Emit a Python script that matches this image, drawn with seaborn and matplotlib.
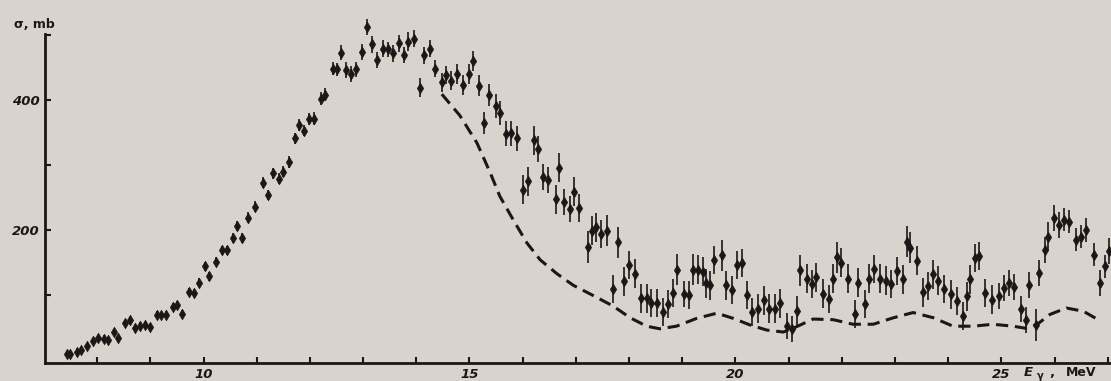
import matplotlib
matplotlib.use("Agg")
import numpy as np
import pandas as pd
import seaborn as sns
import matplotlib.pyplot as plt

# ---------------- data ----------------
energy = [
    7.43, 7.49, 7.63, 7.69, 7.81, 7.92, 8.02, 8.12, 8.20, 8.32,
    8.40, 8.53, 8.62, 8.71, 8.81, 8.90, 9.00, 9.12, 9.21, 9.29,
    9.42, 9.51, 9.59, 9.73, 9.82, 9.92, 10.02, 10.11, 10.24, 10.34,
    10.44, 10.55, 10.63, 10.72, 10.84, 10.97, 11.11, 11.21, 11.31, 11.41,
    11.50, 11.61, 11.72, 11.79, 11.89, 11.99, 12.08, 12.20, 12.28, 12.44,
    12.51, 12.58, 12.67, 12.77, 12.87, 12.98, 13.07, 13.17, 13.27, 13.37,
    13.46, 13.57, 13.67, 13.76, 13.85, 13.95, 14.07, 14.15, 14.26, 14.36,
    14.48, 14.56, 14.66, 14.77, 14.88, 14.99, 15.07, 15.17, 15.27, 15.37,
    15.49, 15.58, 15.68, 15.78, 15.89, 16.00, 16.10, 16.21, 16.29, 16.38,
    16.48, 16.62, 16.69, 16.78, 16.89, 16.97, 17.06, 17.23, 17.30, 17.38,
    17.48, 17.59, 17.70, 17.80, 17.90, 18.00, 18.11, 18.22, 18.33, 18.42,
    18.52, 18.63, 18.73, 18.83, 18.91, 19.03, 19.13, 19.21, 19.30, 19.39,
    19.44, 19.53, 19.60, 19.74, 19.83, 19.94, 20.02, 20.13, 20.21, 20.32,
    20.43, 20.54, 20.63, 20.74, 20.83, 20.96, 21.06, 21.16, 21.22, 21.34,
    21.43, 21.52, 21.65, 21.75, 21.84, 21.90, 21.99, 22.12, 22.24, 22.31,
    22.43, 22.51, 22.61, 22.71, 22.83, 22.93, 23.04, 23.15, 23.22, 23.29,
    23.42, 23.53, 23.62, 23.72, 23.81, 23.92, 24.05, 24.16, 24.27, 24.36,
    24.41, 24.51, 24.58, 24.70, 24.83, 24.95, 25.05, 25.14, 25.24, 25.36,
    25.47, 25.52, 25.65, 25.71, 25.82, 25.88, 25.99, 26.09, 26.17, 26.27,
    26.41, 26.50, 26.59, 26.74, 26.86, 26.94, 27.03,
]
sigma = [
    10, 10, 12, 16, 21, 29, 34, 33, 31, 43,
    34, 57, 61, 50, 53, 54, 51, 70, 69, 70,
    82, 85, 71, 105, 103, 119, 144, 129, 151, 169,
    169, 188, 206, 188, 219, 236, 273, 254, 287, 279,
    290, 305, 341, 362, 353, 371, 371, 402, 408, 448,
    447, 473, 446, 440, 447, 474, 512, 486, 462, 479,
    478, 472, 487, 469, 490, 494, 419, 469, 479, 448,
    427, 438, 430, 440, 423, 440, 460, 422, 364, 408,
    391, 380, 348, 349, 341, 262, 275, 338, 324, 282,
    277, 247, 296, 243, 233, 259, 234, 174, 199, 204,
    194, 199, 109, 181, 121, 146, 133, 95, 95, 88,
    88, 74, 86, 103, 139, 101, 100, 139, 139, 136,
    118, 115, 154, 161, 115, 108, 146, 149, 100, 74,
    79, 92, 79, 79, 87, 53, 48, 76, 138, 125,
    117, 127, 102, 94, 125, 158, 150, 125, 71, 119,
    86, 125, 140, 125, 122, 117, 137, 124, 182, 173,
    153, 104, 114, 132, 122, 109, 101, 91, 68, 98,
    124, 157, 160, 103, 93, 98, 111, 119, 113, 78,
    62, 116, 54, 134, 170, 190, 218, 208, 216, 213,
    185, 190, 200, 162, 118, 144, 167,
]
sigma_err = [
    4, 4, 4, 4, 4, 5, 5, 5, 5, 5,
    5, 5, 5, 5, 5, 5, 5, 5, 5, 5,
    6, 6, 6, 6, 6, 7, 7, 7, 7, 7,
    7, 8, 8, 8, 8, 8, 8, 8, 8, 8,
    8, 9, 9, 9, 9, 9, 10, 10, 10, 10,
    10, 12, 12, 12, 12, 12, 12, 13, 12, 13,
    12, 13, 13, 12, 14, 13, 15, 13, 13, 13,
    14, 14, 15, 15, 15, 15, 16, 16, 17, 17,
    18, 18, 19, 19, 19, 22, 22, 22, 20, 20,
    20, 22, 22, 20, 20, 22, 22, 24, 22, 22,
    22, 24, 22, 24, 22, 22, 22, 22, 22, 22,
    22, 22, 22, 22, 24, 20, 22, 24, 22, 22,
    22, 22, 22, 24, 22, 22, 22, 22, 22, 22,
    22, 22, 22, 22, 22, 20, 20, 22, 24, 22,
    22, 22, 22, 22, 22, 24, 22, 22, 22, 22,
    22, 22, 22, 22, 22, 22, 22, 22, 24, 24,
    22, 22, 22, 22, 22, 22, 22, 22, 22, 22,
    22, 22, 22, 22, 22, 20, 20, 20, 20, 20,
    20, 20, 24, 20, 20, 22, 20, 20, 18, 18,
    18, 18, 18, 18, 20, 18, 20,
]
theory_energy = [
    14.48, 14.82, 15.14, 15.39, 15.57, 15.82, 16.08, 16.33, 16.64, 16.95,
    17.33, 17.70, 18.02, 18.33, 18.58, 18.89, 19.27, 19.65, 19.96, 20.27,
    20.59, 20.90, 21.09, 21.46, 21.84, 22.21, 22.59, 22.97, 23.34, 23.72,
    24.09, 24.47, 24.84, 25.22, 25.44, 25.66, 25.91, 26.22, 26.54, 26.82,
]
theory_sigma = [
    409, 376, 334, 288, 252, 216, 180, 154, 133, 115,
    99, 83, 65, 52, 48, 52, 64, 72, 64, 54,
    46, 43, 49, 63, 62, 55, 55, 65, 73, 65,
    52, 52, 55, 52, 49, 54, 70, 80, 75, 62,
]
x_major = [10, 15, 20, 25]
x_minor = [8, 9, 11, 12, 13, 14, 16, 17, 18, 19, 21, 22, 23, 24, 26, 27]
y_major = [200, 400]
y_minor = [100, 300, 500]

assert len(energy) == len(sigma) == len(sigma_err)
assert len(theory_energy) == len(theory_sigma)

df = pd.DataFrame({"E": energy, "sigma": sigma, "err": sigma_err})
th = pd.DataFrame({"E": theory_energy, "sigma": theory_sigma})

# ---------------- style ----------------
sns.set_theme(style="ticks")
plt.rcParams["font.family"] = ["DejaVu Sans"]

bg = "#d8d4cd"
ink = "#1e1616"

W, H = 1111, 381
fig = plt.figure(figsize=(W / 100, H / 100), dpi=100, facecolor=bg)
ax = fig.add_axes([45 / W, (H - 362.6) / H, (W - 45) / W, 328.9 / H])
ax.set_facecolor(bg)

# error bars + markers
ax.errorbar(df["E"], df["sigma"], yerr=df["err"], fmt="none",
            ecolor=ink, elinewidth=1.2, capsize=0, clip_on=False, zorder=3)
sns.scatterplot(data=df, x="E", y="sigma", marker="d", s=30, color=ink,
                edgecolor=ink, linewidth=0.4, ax=ax, clip_on=False, zorder=4,
                legend=False)

# theoretical dashed curve
sns.lineplot(data=th, x="E", y="sigma", sort=False, estimator=None, ax=ax,
             color=ink, linewidth=2.2, zorder=2)
ax.get_lines()[-1].set_dashes([4, 2.2])

ax.set_xlim(7.02, 27.06)
ax.set_ylim(-4, 502)

for s in ["top", "right"]:
    ax.spines[s].set_visible(False)
for s in ["left", "bottom"]:
    ax.spines[s].set_linewidth(2.0)
    ax.spines[s].set_color(ink)

ax.set_xticks(x_major)
ax.set_xticks(x_minor, minor=True)
ax.set_yticks(y_major)
ax.set_yticks(y_minor, minor=True)
ax.set_xticklabels([str(v) for v in x_major])
ax.set_yticklabels([str(v) for v in y_major])
ax.tick_params(which="both", direction="in", length=4, width=1.5,
               colors=ink, labelsize=9.5, pad=4)
for lab in ax.get_xticklabels() + ax.get_yticklabels():
    lab.set_fontweight("bold")
    lab.set_fontstyle("italic")
ax.set_xlabel("")
ax.set_ylabel("")

def fx(px):
    return px / W

def fy(py):
    return 1 - py / H

fig.text(fx(14), fy(24), "σ, mb", fontsize=9, fontweight="bold",
         ha="left", va="center", color=ink)
fig.text(fx(1024), fy(372), "E", fontsize=9.5, fontweight="bold",
         fontstyle="italic", ha="left", va="center", color=ink)
fig.text(fx(1037), fy(376), "γ", fontsize=7, fontweight="bold",
         ha="left", va="center", color=ink)
fig.text(fx(1049), fy(372), ",", fontsize=9.5, fontweight="bold",
         ha="left", va="center", color=ink)
fig.text(fx(1066), fy(372), "MeV", fontsize=9, fontweight="bold",
         ha="left", va="center", color=ink)

fig.savefig("out.png", dpi=100, facecolor=bg)
